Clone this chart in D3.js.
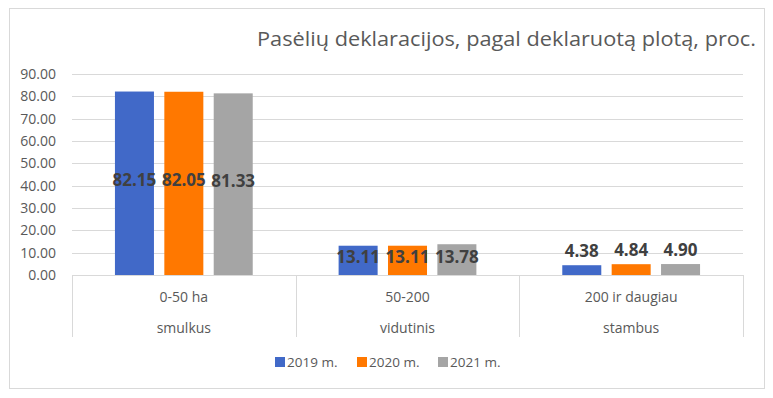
<!DOCTYPE html>
<html>
<head>
<meta charset="utf-8">
<script src="https://cdn.jsdelivr.net/npm/d3@7"></script>
<style>
  body { margin: 0; background: #fff; }
  text { font-family: "Open Sans", "Noto Sans", sans-serif; }
</style>
</head>
<body>
<div id="chart"></div>
<script>
// chart data
var categories = ["0-50 ha", "50-200", "200 ir daugiau"];
var subLabels = ["smulkus", "vidutinis", "stambus"];
var seriesNames = ["2019 m.", "2020 m.", "2021 m."];
var seriesColors = ["#4169C8", "#FF7800", "#A5A5A5"];
var values2019 = [82.15, 13.11, 4.38];
var values2020 = [82.05, 13.11, 4.84];
var values2021 = [81.33, 13.78, 4.90];
var yTicks = [0, 10, 20, 30, 40, 50, 60, 70, 80, 90];
var title = "Pasėlių deklaracijos, pagal deklaruotą plotą, proc.";

var series = [values2019, values2020, values2021];

var width = 773, height = 398;
var plot = {left: 72, right: 743, top: 74, bottom: 275};

var svg = d3.select("#chart").append("svg")
  .attr("width", width)
  .attr("height", height);

// outer chart border
svg.append("rect")
  .attr("x", 9.5).attr("y", 8.5)
  .attr("width", 755).attr("height", 380)
  .attr("fill", "#fff")
  .attr("stroke", "#d9d9d9");

// title
svg.append("text")
  .attr("x", 756).attr("y", 46)
  .attr("text-anchor", "end")
  .attr("font-size", 19.5)
  .attr("textLength", 499)
  .attr("lengthAdjust", "spacingAndGlyphs")
  .attr("fill", "#595959")
  .text(title);

var x0 = d3.scaleBand()
  .domain(categories)
  .range([plot.left, plot.right]);

var x1 = d3.scaleBand()
  .domain(seriesNames)
  .range([x0.bandwidth() * 0.192, x0.bandwidth() * 0.808])
  .paddingInner(0.21);

var y = d3.scaleLinear()
  .domain([0, 90])
  .range([plot.bottom, plot.top]);

// gridlines
svg.append("g")
  .selectAll("line")
  .data(yTicks.slice(1))
  .enter().append("line")
  .attr("x1", plot.left).attr("x2", plot.right)
  .attr("y1", function(d) { return Math.round(y(d)) + 0.5; })
  .attr("y2", function(d) { return Math.round(y(d)) + 0.5; })
  .attr("stroke", "#d9d9d9");

// y axis labels
var yAxis = d3.axisLeft(y)
  .tickValues(yTicks)
  .tickFormat(d3.format(".2f"))
  .tickSize(0)
  .tickPadding(16);

var gy = svg.append("g")
  .attr("transform", "translate(" + plot.left + ",0)")
  .call(yAxis);
gy.select(".domain").remove();
gy.selectAll("text")
  .attr("font-size", 14)
  .attr("font-family", "'Open Sans', sans-serif")
  .attr("fill", "#595959");

// bars
var groups = svg.append("g")
  .selectAll("g")
  .data(categories)
  .enter().append("g")
  .attr("transform", function(d) { return "translate(" + x0(d) + ",0)"; });

groups.selectAll("rect")
  .data(function(d, i) {
    return seriesNames.map(function(s, j) { return {name: s, value: series[j][i], color: seriesColors[j]}; });
  })
  .enter().append("rect")
  .attr("x", function(d) { return x1(d.name); })
  .attr("width", x1.bandwidth())
  .attr("y", function(d) { return y(d.value); })
  .attr("height", function(d) { return y(0) - y(d.value); })
  .attr("fill", function(d) { return d.color; });

// value labels: centred in tall bars, above short ones
groups.selectAll("text.val")
  .data(function(d, i) {
    return seriesNames.map(function(s, j) { return {name: s, value: series[j][i]}; });
  })
  .enter().append("text")
  .attr("class", "val")
  .attr("x", function(d) { return x1(d.name) + x1.bandwidth() / 2; })
  .attr("y", function(d) {
    var h = y(0) - y(d.value);
    return h > 20 ? (y(d.value) + y(0)) / 2 - 3 : y(d.value) - 14;
  })
  .attr("dy", "0.35em")
  .attr("text-anchor", "middle")
  .attr("font-size", 17)
  .attr("font-weight", "bold")
  .attr("fill", "#404040")
  .text(function(d) { return d3.format(".2f")(d.value); });

// category axis line and separators
svg.append("line")
  .attr("x1", plot.left).attr("x2", plot.right)
  .attr("y1", plot.bottom + 0.5).attr("y2", plot.bottom + 0.5)
  .attr("stroke", "#d9d9d9");

var edges = categories.map(function(c) { return x0(c); }).concat([plot.right]);
svg.append("g")
  .selectAll("line")
  .data(edges)
  .enter().append("line")
  .attr("x1", function(d) { return Math.round(d) + 0.5; })
  .attr("x2", function(d) { return Math.round(d) + 0.5; })
  .attr("y1", plot.bottom)
  .attr("y2", 337)
  .attr("stroke", "#d9d9d9");

svg.append("g")
  .selectAll("text")
  .data(categories)
  .enter().append("text")
  .attr("x", function(d) { return x0(d) + x0.bandwidth() / 2; })
  .attr("y", 302)
  .attr("text-anchor", "middle")
  .attr("font-size", 14)
  .attr("fill", "#595959")
  .text(function(d) { return d; });

svg.append("g")
  .selectAll("text")
  .data(subLabels)
  .enter().append("text")
  .attr("x", function(d, i) { return x0(categories[i]) + x0.bandwidth() / 2; })
  .attr("y", 333)
  .attr("text-anchor", "middle")
  .attr("font-size", 14)
  .attr("fill", "#595959")
  .text(function(d) { return d; });

// legend
var legendX = [275, 357, 438];
var legend = svg.append("g")
  .selectAll("g")
  .data(seriesNames)
  .enter().append("g")
  .attr("transform", function(d, i) { return "translate(" + legendX[i] + ",357)"; });

legend.append("rect")
  .attr("width", 10).attr("height", 10)
  .attr("fill", function(d, i) { return seriesColors[i]; });

legend.append("text")
  .attr("x", 12).attr("y", 10)
  .attr("font-size", 13.5)
  .attr("fill", "#595959")
  .text(function(d) { return d; });
</script>
</body>
</html>
